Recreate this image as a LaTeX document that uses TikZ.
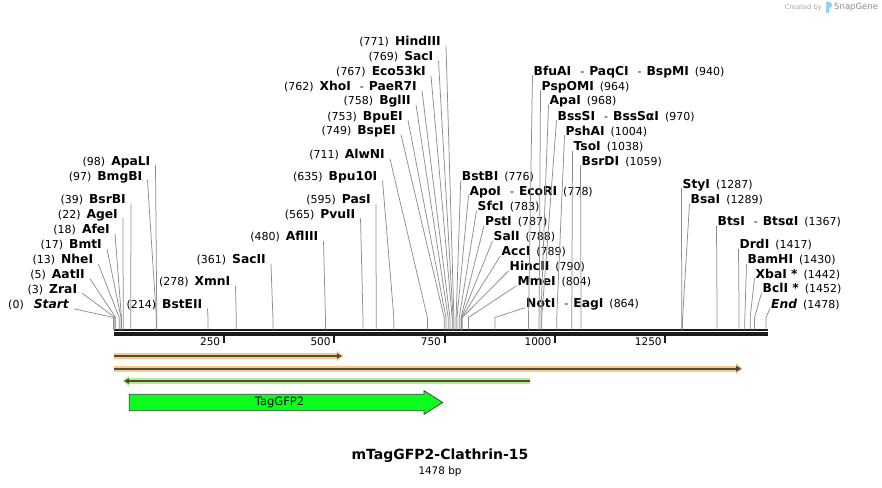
\documentclass[tikz,border=0pt]{standalone}
\usepackage{fontspec}
\usepackage{xcolor}
\setmainfont{DejaVu Sans}
\usetikzlibrary{arrows.meta, positioning}

\definecolor{leadergray}{HTML}{8E8E8E}
\definecolor{rulerblack}{HTML}{1C1C1C}
\definecolor{primerorange}{HTML}{FBCB7F}
\definecolor{primergreen}{HTML}{B6EE87}
\definecolor{primerline}{HTML}{4B4B4B}
\definecolor{gfpgreen}{HTML}{0AFF1E}
\definecolor{snapblue}{HTML}{8FD3F5}

\newcommand{\enz}[1]{{\fontsize{12.3}{14}\selectfont\bfseries #1}}
\newcommand{\loc}[1]{{\fontsize{11}{13}\selectfont(#1)}}
\newcommand{\dash}{\hspace{9pt}{\fontsize{11}{13}\selectfont -}\hspace{5pt}}
\newcommand{\bpx}[1]{113.5+0.4415*#1}

\tikzset{
  leftlbl/.style={anchor=east, inner sep=0pt},
  rightlbl/.style={anchor=west, inner sep=0pt},
  leader/.style={draw=leadergray, line width=0.75pt},
  ticklbl/.style={anchor=east, inner sep=0pt, font=\fontsize{10.5}{12}\selectfont},
  halo/.style={draw=#1, line width=6.3pt, -{Triangle[length=6.5pt,width=11pt,line width=0pt]}},
  strand/.style={draw=primerline, line width=1.7pt, -{Triangle[length=5pt,width=6pt,line width=0pt]}}
}

\begin{document}
\begin{tikzpicture}[x=1pt, y=-1pt]
        \useasboundingbox (0,0) rectangle (882,487);
        \fill[white] (0,0) rectangle (882,487);

        % header
        \node[anchor=east, inner sep=0pt, text=black!35, font=\fontsize{6.7}{8}\selectfont] (created) at (822,7.5) {Created by};
        \fill[snapblue] (826,2) -- (829.5,2) .. controls (833,2) and (833,8) .. (829.5,8) -- (829,13) -- (826,13) -- cycle;
        \node[anchor=west, inner sep=0pt, text=black!45, font=\fontsize{8.5}{10}\selectfont] (snapgene) at (834,7.5) {SnapGene};

        % ruler
        \coordinate (r0) at (114,330);
        \coordinate (r1) at (768,330);
        \draw[rulerblack, line width=1.6pt] (r0) -- (r1);
        \draw[rulerblack, line width=4pt] ([yshift=-4pt]r0) -- ([yshift=-4pt]r1);
        \foreach \t in {250,500,750,1000,1250} {
            \draw[rulerblack, line width=2pt] ({\bpx{\t}},336) -- ({\bpx{\t}},343);
            \node[ticklbl] (t\t) at ({\bpx{\t}-3.5},341.5) {\t};
        }

        % cut sites
        \foreach \p in {0,3,5,13,17,18,22,39,97,98,214,278,361,480,565,595,635,711,749,753,758,762,767,769,771,
                        776,778,783,787,788,789,790,804,864,940,964,968,970,1004,1038,1059,1287,1289,1367,1417,1430,1442,1452,1478}
            \coordinate (s\p) at ({\bpx{\p}},329.5);

        % labels left of their sites
        \node[leftlbl] (start) at (69,305) {\loc{0}\hspace{10pt}\enz{\itshape Start}};
        \node[leftlbl] (zrai) at (77.3,289.5) {\loc{3}\hspace{6pt}\enz{ZraI}};
        \node[leftlbl] (aatii) at (85,275) {\loc{5}\hspace{6pt}\enz{AatII}};
        \node[leftlbl] (nhei) at (93.3,260) {\loc{13}\hspace{6pt}\enz{NheI}};
        \node[leftlbl] (bmti) at (102,245) {\loc{17}\hspace{6pt}\enz{BmtI}};
        \node[leftlbl] (afei) at (110,230) {\loc{18}\hspace{6pt}\enz{AfeI}};
        \node[leftlbl] (agei) at (118,215) {\loc{22}\hspace{6pt}\enz{AgeI}};
        \node[leftlbl] (bsrbi) at (126,199.5) {\loc{39}\hspace{6pt}\enz{BsrBI}};
        \node[leftlbl] (bmgbi) at (142.5,177) {\loc{97}\hspace{6pt}\enz{BmgBI}};
        \node[leftlbl] (apali) at (150.5,162) {\loc{98}\hspace{6pt}\enz{ApaLI}};
        \node[leftlbl] (bsteii) at (202.5,305) {\loc{214}\hspace{6pt}\enz{BstEII}};
        \node[leftlbl] (xmni) at (230.5,282) {\loc{278}\hspace{6pt}\enz{XmnI}};
        \node[leftlbl] (sacii) at (266,260) {\loc{361}\hspace{6pt}\enz{SacII}};
        \node[leftlbl] (afliii) at (318.5,237) {\loc{480}\hspace{6pt}\enz{AflIII}};
        \node[leftlbl] (pvuii) at (355.5,214.5) {\loc{565}\hspace{6pt}\enz{PvuII}};
        \node[leftlbl] (pasi) at (371,200) {\loc{595}\hspace{6pt}\enz{PasI}};
        \node[leftlbl] (bpuoi) at (377.5,177) {\loc{635}\hspace{6pt}\enz{Bpu10I}};
        \node[leftlbl] (alwni) at (385,155) {\loc{711}\hspace{6pt}\enz{AlwNI}};
        \node[leftlbl] (bspei) at (396,131.5) {\loc{749}\hspace{6pt}\enz{BspEI}};
        \node[leftlbl] (bpuei) at (403,117) {\loc{753}\hspace{6pt}\enz{BpuEI}};
        \node[leftlbl] (bglii) at (411,101.5) {\loc{758}\hspace{6pt}\enz{BglII}};
        \node[leftlbl] (xhoi) at (417,87) {\loc{762}\hspace{6pt}\enz{XhoI}\dash\enz{PaeR7I}};
        \node[leftlbl] (eco) at (426,72) {\loc{767}\hspace{6pt}\enz{Eco53kI}};
        \node[leftlbl] (saci) at (433.5,57) {\loc{769}\hspace{6pt}\enz{SacI}};
        \node[leftlbl] (hindiii) at (441,42) {\loc{771}\hspace{6pt}\enz{HindIII}};

        % labels right of their sites
        \node[rightlbl] (bstbi) at (461.7,176.5) {\enz{BstBI}\hspace{6pt}\loc{776}};
        \node[rightlbl] (ecori) at (469.5,192) {\enz{ApoI}\dash\enz{EcoRI}\hspace{6pt}\loc{778}};
        \node[rightlbl] (sfci) at (477.5,207) {\enz{SfcI}\hspace{6pt}\loc{783}};
        \node[rightlbl] (psti) at (485,222) {\enz{PstI}\hspace{6pt}\loc{787}};
        \node[rightlbl] (sali) at (493.5,237) {\enz{SalI}\hspace{6pt}\loc{788}};
        \node[rightlbl] (acci) at (501.5,252) {\enz{AccI}\hspace{6pt}\loc{789}};
        \node[rightlbl] (hincii) at (509.5,267) {\enz{HincII}\hspace{6pt}\loc{790}};
        \node[rightlbl] (mmei) at (517.5,282) {\enz{MmeI}\hspace{6pt}\loc{804}};
        \node[rightlbl] (noti) at (526,304.5) {\enz{NotI}\dash\enz{EagI}\hspace{6pt}\loc{864}};
        \node[rightlbl] (bfuai) at (533.5,72) {\enz{BfuAI}\dash\enz{PaqCI}\dash\enz{BspMI}\hspace{6pt}\loc{940}};
        \node[rightlbl] (pspomi) at (541.5,87) {\enz{PspOMI}\hspace{6pt}\loc{964}};
        \node[rightlbl] (apai) at (549.5,101.5) {\enz{ApaI}\hspace{6pt}\loc{968}};
        \node[rightlbl] (bsssi) at (557.5,116.5) {\enz{BssSI}\dash\enz{BssSαI}\hspace{6pt}\loc{970}};
        \node[rightlbl] (pshai) at (565.5,131.5) {\enz{PshAI}\hspace{6pt}\loc{1004}};
        \node[rightlbl] (tsoi) at (573.5,147) {\enz{TsoI}\hspace{6pt}\loc{1038}};
        \node[rightlbl] (bsrdi) at (581.5,161.5) {\enz{BsrDI}\hspace{6pt}\loc{1059}};
        \node[rightlbl] (styi) at (682.5,185) {\enz{StyI}\hspace{6pt}\loc{1287}};
        \node[rightlbl] (bsai) at (690.5,200) {\enz{BsaI}\hspace{6pt}\loc{1289}};
        \node[rightlbl] (btsi) at (717.5,222) {\enz{BtsI}\dash\enz{BtsαI}\hspace{6pt}\loc{1367}};
        \node[rightlbl] (drdi) at (739.5,245) {\enz{DrdI}\hspace{6pt}\loc{1417}};
        \node[rightlbl] (bamhi) at (747.5,260) {\enz{BamHI}\hspace{6pt}\loc{1430}};
        \node[rightlbl] (xbai) at (755.5,274.5) {\enz{XbaI *}\hspace{6pt}\loc{1442}};
        \node[rightlbl] (bcli) at (762.5,289) {\enz{BclI *}\hspace{6pt}\loc{1452}};
        \node[rightlbl] (end) at (771,304.5) {\enz{\itshape End}\hspace{6pt}\loc{1478}};

        % leaders
        \foreach \n/\p in {start/0,zrai/3,aatii/5,nhei/13,bmti/17,afei/18,agei/22,bsrbi/39,bmgbi/97,apali/98,
                           bsteii/214,xmni/278,sacii/361,afliii/480,pvuii/565,pasi/595,bpuoi/635,alwni/711,
                           bspei/749,bpuei/753,bglii/758,xhoi/762,eco/767,saci/769,hindiii/771}
            \draw[leader] ([xshift=5pt]\n.base east) -- ([yshift=12pt]s\p) -- (s\p);
        \foreach \n/\p in {bstbi/776,ecori/778,sfci/783,psti/787,sali/788,acci/789,hincii/790,mmei/804,noti/864,
                           bfuai/940,pspomi/964,apai/968,bsssi/970,pshai/1004,tsoi/1038,bsrdi/1059,
                           styi/1287,bsai/1289,btsi/1367,drdi/1417,bamhi/1430,xbai/1442,bcli/1452,end/1478}
            \draw[leader] ([xshift=-1pt]\n.base west) -- ([yshift=12pt]s\p) -- (s\p);

        % primers
        \coordinate (p1s) at (114,356);
        \coordinate (p1e) at (343.3,356);
        \coordinate (p2s) at (114,368.7);
        \coordinate (p2e) at (742.7,368.7);
        \coordinate (p3s) at (530,381);
        \coordinate (p3e) at (122.7,381);
        \draw[halo=primerorange] (p1s) -- (p1e);
        \draw[strand] (p1s) -- ([xshift=-1.5pt]p1e);
        \draw[halo=primerorange] (p2s) -- (p2e);
        \draw[strand] (p2s) -- ([xshift=-1.5pt]p2e);
        \draw[halo=primergreen] (p3s) -- (p3e);
        \draw[strand] (p3s) -- ([xshift=1.5pt]p3e);

        % feature
        \filldraw[fill=gfpgreen, draw=black!75, line width=0.8pt]
            (129.3,394.3) -- (424,394.3) -- (424,390.7) -- (442.7,402.5) -- (424,414.3) -- (424,410.7) -- (129.3,410.7) -- cycle;
        \node[inner sep=0pt, font=\fontsize{11.5}{13}\selectfont] (gfp) at (279.5,402.5) {TagGFP2};

        % title
        \node[inner sep=0pt, font=\fontsize{14}{16}\selectfont\bfseries] (title) at (440,456) {mTagGFP2-Clathrin-15};
        \node[below=3pt of title, inner sep=0pt, font=\fontsize{10.4}{12}\selectfont] (size) {1478 bp};
\end{tikzpicture}
\end{document}
